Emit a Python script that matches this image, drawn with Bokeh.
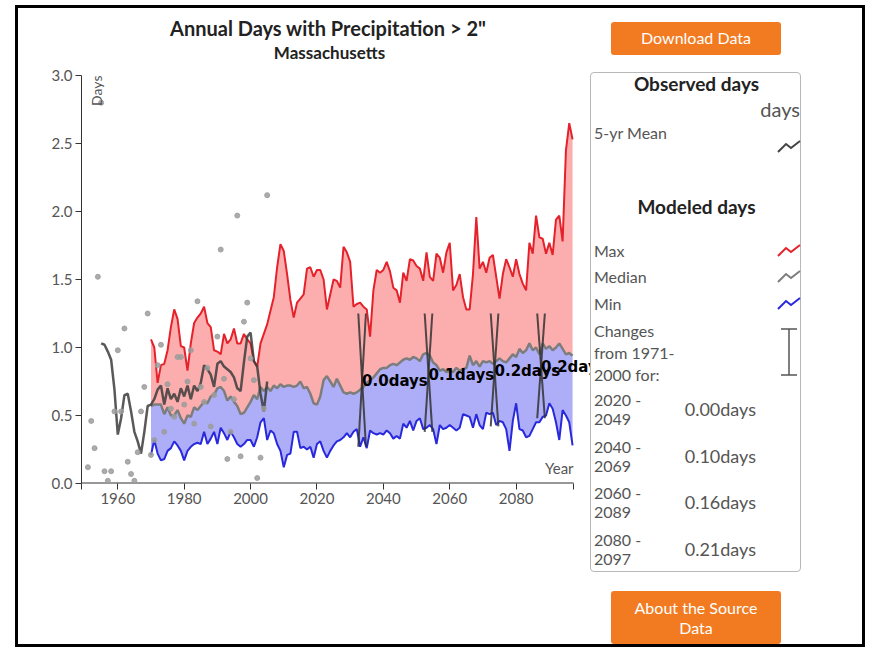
from math import pi
from bokeh.plotting import figure
from bokeh.models import (Range1d, FixedTicker, PrintfTickFormatter, Label, LabelSet,
                          ColumnDataSource, Div)
from bokeh.layouts import row, column
from bokeh.core.properties import value
from bokeh.embed import file_html
from bokeh.resources import INLINE

# ---------------- data ----------------
title = 'Annual Days with Precipitation > 2"'
subtitle = "Massachusetts"

obs_years = list(range(1951, 2006))
obs_days = [0.12, 0.46, 0.26, 1.52, 2.80, 0.09, 0.02, 0.09, 0.53, 0.98,
            0.53, 1.14, 0.16, 0.07, 0.02, 0.23, 0.53, 0.71, 1.25, 0.21,
            0.32, 0.87, 1.02, 0.38, 0.73, 0.55, 0.49, 0.93, 0.93, 0.58,
            0.75, 0.98, 0.44, 1.34, 0.71, 0.60, 0.85, 0.42, 0.65, 1.08,
            1.72, 0.77, 0.18, 0.38, 0.62, 1.97, 0.20, 1.19, 1.33, 0.92,
            0.76, 0.04, 0.19, 0.55, 2.12]

mean_years = list(range(1955, 2006))
mean_days = [1.03, 1.02, 0.97, 0.91, 0.69, 0.36, 0.48, 0.65, 0.66, 0.53,
             0.38, 0.31, 0.22, 0.38, 0.57, 0.58, 0.62, 0.69, 0.72, 0.58,
             0.70, 0.62, 0.66, 0.60, 0.70, 0.64, 0.72, 0.62, 0.72, 0.68,
             0.74, 0.87, 0.84, 0.80, 0.71, 0.88, 0.90, 0.86, 0.84, 0.82,
             0.78, 0.70, 0.68, 0.89, 1.08, 1.11, 0.90, 0.86, 0.66, 0.53, 0.75]

model_years = list(range(1970, 2098))
model_max = [1.06, 1.00, 0.74, 0.87, 0.88, 0.98, 1.15, 1.28, 1.21, 1.01,
             1.00, 0.83, 1.03, 1.18, 1.22, 1.25, 1.30, 1.18, 1.15, 0.98,
             0.97, 0.95, 1.10, 1.03, 1.06, 1.14, 1.03, 1.03, 1.10, 1.06,
             1.03, 0.90, 0.86, 1.03, 1.10, 1.17, 1.27, 1.37, 1.59, 1.76,
             1.71, 1.54, 1.35, 1.22, 1.33, 1.36, 1.39, 1.58, 1.59, 1.52,
             1.57, 1.57, 1.50, 1.28, 1.39, 1.50, 1.49, 1.44, 1.74, 1.70,
             1.63, 1.30, 1.32, 1.33, 1.30, 1.28, 1.08, 1.42, 1.57, 1.55,
             1.57, 1.63, 1.56, 1.44, 1.42, 1.33, 1.55, 1.49, 1.65, 1.64,
             1.60, 1.58, 1.49, 1.70, 1.52, 1.49, 1.69, 1.66, 1.55, 1.70,
             1.77, 1.42, 1.46, 1.54, 1.37, 1.28, 1.28, 1.54, 1.96, 1.58,
             1.63, 1.55, 1.66, 1.68, 1.52, 1.36, 1.54, 1.65, 1.59, 1.52,
             1.65, 1.54, 1.47, 1.42, 1.77, 1.69, 1.97, 1.81, 1.80, 1.69,
             1.77, 1.68, 1.94, 1.97, 1.78, 2.45, 2.65, 2.53]
model_median = [0.57, 0.58, 0.58, 0.58, 0.51, 0.56, 0.50, 0.50, 0.54, 0.48,
                0.44, 0.50, 0.49, 0.56, 0.54, 0.57, 0.60, 0.59, 0.64, 0.65,
                0.70, 0.71, 0.68, 0.61, 0.64, 0.60, 0.57, 0.51, 0.52, 0.56,
                0.60, 0.65, 0.62, 0.71, 0.68, 0.71, 0.68, 0.72, 0.70, 0.73,
                0.71, 0.72, 0.72, 0.71, 0.72, 0.75, 0.70, 0.71, 0.66, 0.59,
                0.58, 0.64, 0.76, 0.79, 0.75, 0.71, 0.77, 0.72, 0.67, 0.66,
                0.67, 0.66, 0.67, 0.69, 0.71, 0.74, 0.76, 0.78, 0.81, 0.84,
                0.85, 0.85, 0.87, 0.88, 0.87, 0.89, 0.91, 0.92, 0.91, 0.93,
                0.92, 0.90, 0.95, 0.96, 0.94, 0.89, 0.87, 0.83, 0.84, 0.82,
                0.83, 0.82, 0.85, 0.83, 0.84, 0.85, 0.94, 0.87, 0.90, 0.86,
                0.90, 0.89, 0.90, 0.88, 0.90, 0.92, 0.90, 0.89, 0.92, 0.95,
                0.93, 0.99, 0.96, 0.98, 1.03, 0.98, 1.00, 0.95, 1.03, 0.99,
                1.01, 0.98, 1.00, 1.03, 0.99, 0.95, 0.96, 0.94]
model_min = [0.21, 0.32, 0.22, 0.17, 0.18, 0.24, 0.26, 0.31, 0.28, 0.24,
             0.17, 0.24, 0.27, 0.29, 0.30, 0.29, 0.38, 0.29, 0.33, 0.38,
             0.29, 0.41, 0.37, 0.32, 0.38, 0.34, 0.29, 0.27, 0.29, 0.32,
             0.32, 0.27, 0.34, 0.45, 0.48, 0.32, 0.39, 0.37, 0.29, 0.24,
             0.12, 0.21, 0.22, 0.38, 0.38, 0.26, 0.27, 0.25, 0.27, 0.19,
             0.29, 0.31, 0.24, 0.19, 0.24, 0.28, 0.31, 0.32, 0.34, 0.37,
             0.34, 0.38, 0.40, 0.27, 0.34, 0.26, 0.39, 0.37, 0.36, 0.37,
             0.36, 0.39, 0.37, 0.33, 0.35, 0.33, 0.44, 0.41, 0.46, 0.39,
             0.46, 0.48, 0.40, 0.41, 0.43, 0.40, 0.29, 0.43, 0.40, 0.41,
             0.43, 0.41, 0.39, 0.41, 0.51, 0.50, 0.49, 0.41, 0.51, 0.43,
             0.40, 0.52, 0.51, 0.52, 0.43, 0.46, 0.45, 0.40, 0.24, 0.46,
             0.59, 0.40, 0.39, 0.34, 0.35, 0.40, 0.45, 0.45, 0.49, 0.50,
             0.59, 0.55, 0.45, 0.32, 0.54, 0.50, 0.45, 0.28]

change_periods = ["2020 - 2049", "2040 - 2069", "2060 - 2089", "2080 - 2097"]
change_values = [0.00, 0.10, 0.16, 0.21]
change_center_years = [2033.6, 2053.6, 2073.5, 2087.5]
change_top = [1.25, 1.25, 1.25, 1.25]
change_bottom = [0.27, 0.38, 0.42, 0.48]

y_ticks = [0.0, 0.5, 1.0, 1.5, 2.0, 2.5, 3.0]
x_ticks = [1960, 1980, 2000, 2020, 2040, 2060, 2080]

# ---------------- chart ----------------
X0, X1 = 1949.07, 2097.3      # axis domain
XR = 2102.4                   # frame extends to the legend panel edge
FONT = "Lato"
GRAY_TXT = "#555555"

p = figure(width=572, height=581, x_range=Range1d(X0, XR), y_range=Range1d(0, 3),
           output_backend="svg", toolbar_location=None,
           min_border_left=63, min_border_right=0, min_border_top=12, min_border_bottom=161)
p.outline_line_color = None
p.grid.visible = False
p.background_fill_color = "white"
p.border_fill_color = "white"

p.yaxis.ticker = FixedTicker(ticks=y_ticks)
p.yaxis.formatter = PrintfTickFormatter(format="%.1f")
p.xaxis.ticker = FixedTicker(ticks=[X0] + x_ticks + [X1])
p.xaxis.major_label_overrides = {X0: "", X1: ""}
for ax in (p.xaxis, p.yaxis):
    ax.major_tick_out = 6
    ax.major_tick_in = 0
    ax.minor_tick_line_color = None
    ax.axis_line_color = "#333333"
    ax.major_tick_line_color = "#333333"
    ax.major_label_text_color = GRAY_TXT
    ax.major_label_text_font = FONT
    ax.major_label_text_font_size = "15px"
    ax.major_label_standoff = 3
p.xaxis.axis_line_color = None
# x-axis domain line only across the axis domain
p.segment(x0=[X0], y0=[0], x1=[X1], y1=[0], line_color="#333333", line_width=2)

msrc = ColumnDataSource(dict(year=model_years, mx=model_max, md=model_median, mn=model_min))
p.varea(x="year", y1="md", y2="mx", source=msrc, fill_color="#fcaeae", fill_alpha=1.0)
p.varea(x="year", y1="mn", y2="md", source=msrc, fill_color="#aeaef8", fill_alpha=1.0)
p.line("year", "mx", source=msrc, line_color="#e5222b", line_width=2)
p.line("year", "md", source=msrc, line_color="#7d7d7d", line_width=2.5)
p.line("year", "mn", source=msrc, line_color="#2828dc", line_width=2)

p.line(mean_years, mean_days, line_color="#3c3c3c", line_width=2.5, line_alpha=0.85)
p.scatter(obs_years, obs_days, size=5, color="#9c9c9c", alpha=0.85)

hw = 1.15
x_left = [c - hw for c in change_center_years]
x_right = [c + hw for c in change_center_years]
p.segment(x0=x_left, y0=change_top, x1=x_right, y1=change_bottom,
          line_color="#333333", line_width=2, line_alpha=0.85)
p.segment(x0=x_right, y0=change_top, x1=x_left, y1=change_bottom,
          line_color="#333333", line_width=2, line_alpha=0.85)

label_y = [0.755, 0.795, 0.825, 0.855]
lsrc = ColumnDataSource(dict(x=change_center_years, y=label_y,
                             t=[f"{v:.1f}days" for v in change_values]))
p.add_layout(LabelSet(x="x", y="y", text="t", source=lsrc, text_align="left",
                      text_baseline="middle", text_font=value("DejaVu Sans"),
                      text_font_style="bold", text_font_size="15px", text_color="black"))

p.add_layout(Label(x=1950.9, y=3.0, text="Days", angle=pi / 2, text_align="right",
                   text_baseline="top", text_font=FONT, text_font_size="14px",
                   text_color=GRAY_TXT))
p.add_layout(Label(x=X1, y=0.045, text="Year", text_align="right", text_baseline="bottom",
                   text_font=FONT, text_font_size="15px", text_color=GRAY_TXT))

# ---------------- titles ----------------
title_html = (
    '<div style="position:relative;width:572px;height:55px;font-family:Lato,sans-serif;color:#222;">'
    f'<div style="position:absolute;left:0;width:620px;text-align:center;top:20px;'
    f'transform:translateY(-50%);font-size:20px;font-weight:700;white-space:nowrap;">{title}</div>'
    f'<div style="position:absolute;left:0;width:623px;text-align:center;top:45px;'
    f'transform:translateY(-50%);font-size:17px;font-weight:700;white-space:nowrap;">{subtitle}</div>'
    '</div>')
title_div = Div(text=title_html, width=572, height=55, margin=(0, 0, 0, 0))

# ---------------- right panel (buttons + legend) ----------------
def txt(s, cy, left=None, right=None, center=False, size=16, weight=400, color=GRAY_TXT):
    if center:
        pos = "left:0;width:213px;text-align:center;"
    elif right is not None:
        pos = f"right:{272 - right}px;text-align:right;"
    else:
        pos = f"left:{left}px;"
    return (f'<div style="position:absolute;{pos}top:{cy}px;transform:translateY(-50%);'
            f'font-size:{size}px;font-weight:{weight};color:{color};white-space:nowrap;">{s}</div>')

def icon(color, left, top):
    return (f'<svg style="position:absolute;left:{left}px;top:{top}px;" width="24" height="14">'
            f'<polyline points="1,13 9,5 14,9 23,2" fill="none" stroke="{color}" stroke-width="2"/></svg>')

D = 3  # vertical offset of the panel content
parts = []
parts.append(f'<div style="position:absolute;left:21px;top:{11 + D}px;width:170px;height:33px;'
             'background:#f27b22;border-radius:3px;color:#fff;font-size:16px;display:flex;'
             'align-items:center;justify-content:center;">Download Data</div>')
parts.append(f'<div style="position:absolute;left:0;top:{61 + D}px;width:211px;height:500px;'
             'border:1px solid #b8b8b8;border-radius:4px;"></div>')
parts.append(txt("Observed days", 73 + D, center=True, size=19, weight=700, color="#222"))
parts.append(txt("days", 98 + D, right=210, size=20))
parts.append(txt("5-yr Mean", 122 + D, left=4))
parts.append(icon("#444444", 187, 128 + D))
parts.append(txt("Modeled days", 196 + D, center=True, size=19, weight=700, color="#222"))
for name, cy, col in [("Max", 240, "#e5222b"), ("Median", 266, "#7d7d7d"), ("Min", 293, "#2828dc")]:
    parts.append(txt(name, cy + D, left=4))
    parts.append(icon(col, 187, cy - 8 + D))
parts.append(txt("Changes", 320 + D, left=4))
parts.append(txt("from 1971-", 342 + D, left=4))
parts.append(txt("2000 for:", 364 + D, left=4))
parts.append(f'<svg style="position:absolute;left:190px;top:{317 + D}px;" width="18" height="48">'
             '<line x1="9" y1="1" x2="9" y2="47" stroke="#555" stroke-width="1.5"/>'
             '<line x1="1" y1="1" x2="17" y2="1" stroke="#555" stroke-width="1.5"/>'
             '<line x1="1" y1="47" x2="17" y2="47" stroke="#555" stroke-width="1.5"/></svg>')
for i, (per, val) in enumerate(zip(change_periods, change_values)):
    a, b = per.split(" - ")
    base = 389 + i * 46.5 + D
    parts.append(txt(f"{a} -", base, left=4))
    parts.append(txt(b, base + 19, left=4))
    parts.append(txt(f"{val:.2f}days", base + 10, right=166, size=18))
parts.append(f'<div style="position:absolute;left:21px;top:{580 + D}px;width:170px;height:53px;'
             'background:#f27b22;border-radius:3px;color:#fff;font-size:16px;display:flex;'
             'align-items:center;justify-content:center;text-align:center;line-height:20px;">'
             'About the Source<br>Data</div>')

html = ('<div style="position:relative;left:0;top:0;width:272px;height:636px;'
        'font-family:Lato,sans-serif;">' + "".join(parts) + "</div>")
panel = Div(text=html, width=272, height=636, margin=(0, 0, 0, 0))

layout = row(column(title_div, p), panel,
             styles={"border": "3px solid black", "margin-top": "5px", "margin-left": "15px"})

open("out.html", "w").write(file_html(layout, INLINE))
